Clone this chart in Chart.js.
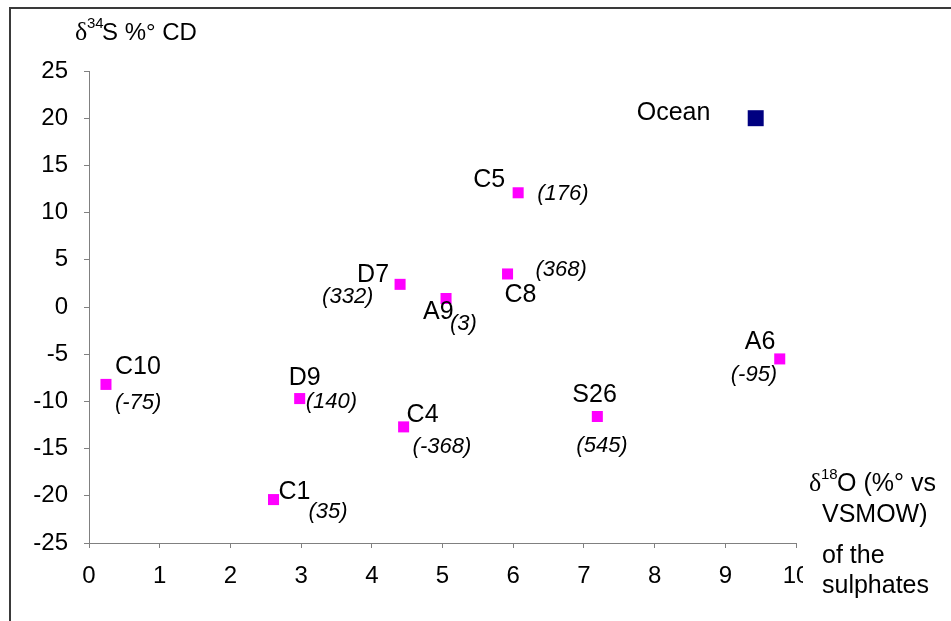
<!DOCTYPE html>
<html>
<head>
<meta charset="utf-8">
<script src="https://cdn.jsdelivr.net/npm/chart.js@4.4.0/dist/chart.umd.min.js"></script>
<style>
  html, body { margin: 0; padding: 0; background: #fff; }
</style>
</head>
<body>
<canvas id="myChart" width="951" height="621"></canvas>
<script>
// Datos de las muestras
const names = ['C10', 'C1', 'D9', 'D7', 'C4', 'A9', 'C8', 'C5', 'S26', 'A6'];
const xValues = [0.24, 2.61, 2.98, 4.40, 4.45, 5.05, 5.92, 6.07, 7.19, 9.77];
const yValues = [-8.2, -20.4, -9.7, 2.4, -12.7, 0.9, 3.5, 12.1, -11.6, -5.5];
const notes = ['(-75)', '(35)', '(140)', '(332)', '(-368)', '(3)', '(368)', '(176)', '(545)', '(-95)'];

const oceanName = ['Ocean'];
const oceanX = [9.43];
const oceanY = [20];

const xTicks = [0, 1, 2, 3, 4, 5, 6, 7, 8, 9, 10];
const yTicks = [-25, -20, -15, -10, -5, 0, 5, 10, 15, 20, 25];

// desplazamiento de las etiquetas respecto al punto (px)
const nameOffsets = [[9, -17], [5, -7], [-11, -20], [-43, -9], [3, -12], [-23, 14], [-3, 21], [-45, -13], [-25, -21], [-35, -17]];
const noteOffsets = [[9, 18], [35, 12], [6, 3], [-78, 13], [9, 20], [4, 25], [28, -4], [19, 1], [-21, 29], [-49, 16]];
const oceanOffset = [-119, -5];

const FONT = '"Liberation Sans", Arial, sans-serif';
const SERIF = '"Liberation Serif", "Times New Roman", serif';

const labelPlugin = {
    id: 'labels',
    beforeDraw(chart) {
        const ctx = chart.ctx;
        ctx.save();
        ctx.fillStyle = '#fff';
        ctx.fillRect(0, 0, chart.width, chart.height);
        // marco exterior
        ctx.strokeStyle = '#3a3a3a';
        ctx.lineWidth = 2;
        ctx.beginPath();
        ctx.moveTo(10, 621);
        ctx.lineTo(10, 8);
        ctx.lineTo(951, 8);
        ctx.stroke();
        ctx.restore();
    },
    afterDraw(chart) {
        const ctx = chart.ctx;
        ctx.save();
        ctx.fillStyle = '#000';
        ctx.textBaseline = 'middle';
        ctx.textAlign = 'left';

        const meta = chart.getDatasetMeta(0);
        meta.data.forEach((pt, i) => {
            ctx.font = '25px ' + FONT;
            ctx.fillText(names[i], pt.x + nameOffsets[i][0], pt.y + nameOffsets[i][1]);
            ctx.font = 'italic 22px ' + FONT;
            ctx.fillText(notes[i], pt.x + noteOffsets[i][0], pt.y + noteOffsets[i][1]);
        });
        const oc = chart.getDatasetMeta(1).data[0];
        ctx.font = '25px ' + FONT;
        ctx.fillText(oceanName[0], oc.x + oceanOffset[0], oc.y + oceanOffset[1]);

        // titulo eje Y
        ctx.textBaseline = 'alphabetic';
        ctx.font = '26px ' + SERIF;
        ctx.fillText('δ', 75, 40);
        ctx.font = '15px ' + FONT;
        ctx.fillText('34', 87, 28);
        ctx.font = '24px ' + FONT;
        ctx.fillText('S %° CD', 102, 40);

        // titulo eje X
        ctx.fillStyle = '#fff';
        ctx.fillRect(803, 470, 148, 151);
        ctx.fillStyle = '#000';
        ctx.font = '26px ' + SERIF;
        ctx.fillText('δ', 809, 491);
        ctx.font = '15px ' + FONT;
        ctx.fillText('18', 821, 479);
        ctx.font = '25px ' + FONT;
        ctx.fillText('O (%° vs', 837, 491);
        ctx.fillText('VSMOW)', 822, 522);
        ctx.fillText('of the', 822, 563);
        ctx.fillText('sulphates', 822, 593);
        ctx.restore();
    }
};

const ctx = document.getElementById('myChart').getContext('2d');

const myChart = new Chart(ctx, {
    type: 'scatter',
    data: {
        datasets: [{
            data: xValues.map((x, i) => ({ x: x, y: yValues[i] })),
            pointStyle: 'rect',
            pointRadius: 7.8,
            backgroundColor: '#ff00ff',
            borderColor: '#ff00ff',
            borderWidth: 0
        }, {
            data: oceanX.map((x, i) => ({ x: x, y: oceanY[i] })),
            pointStyle: 'rect',
            pointRadius: 11.3,
            backgroundColor: '#000080',
            borderColor: '#000080',
            borderWidth: 0
        }]
    },
    options: {
        responsive: false,
        animation: false,
        devicePixelRatio: 1,
        layout: { padding: { left: 0, top: 71, right: 155, bottom: 0 } },
        plugins: {
            legend: { display: false },
            tooltip: { enabled: false }
        },
        scales: {
            x: {
                type: 'linear',
                min: 0,
                max: 10,
                afterBuildTicks: s => { s.ticks = xTicks.map(v => ({ value: v })); },
                afterFit: s => { s.height = 78; },
                grid: { display: true, drawOnChartArea: false, drawTicks: true, tickLength: 5, color: '#808080' },
                border: { display: true, color: '#808080', width: 1 },
                ticks: { color: '#000', font: { family: FONT, size: 24 }, padding: 14, maxRotation: 0, autoSkip: false }
            },
            y: {
                type: 'linear',
                min: -25,
                max: 25,
                afterBuildTicks: s => { s.ticks = yTicks.map(v => ({ value: v })); },
                afterFit: s => { s.width = 89; },
                grid: { display: true, drawOnChartArea: false, drawTicks: true, tickLength: 5, color: '#808080' },
                border: { display: true, color: '#808080', width: 1 },
                ticks: { color: '#000', font: { family: FONT, size: 24 }, padding: 16, autoSkip: false }
            }
        }
    },
    plugins: [labelPlugin]
});
</script>
</body>
</html>
